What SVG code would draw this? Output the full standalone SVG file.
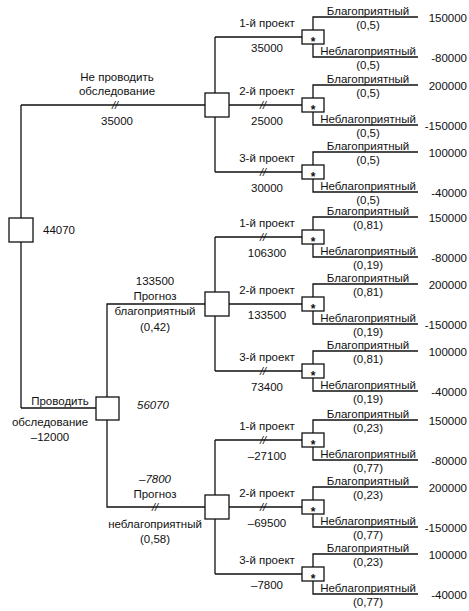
<svg xmlns="http://www.w3.org/2000/svg" width="469" height="611" viewBox="0 0 469 611">
<style>
text{font-family:"Liberation Sans",Arial,sans-serif;font-size:11.5px;fill:#111}
.m{text-anchor:middle}
.e{text-anchor:end}
.i{font-style:italic}
.st{text-anchor:middle;font-weight:bold;font-size:12px}
.sl{font-style:italic;font-size:11px;text-anchor:middle}
.ln{fill:none;stroke:#111;stroke-width:1.3}
.nd{fill:#fff;stroke:#111;stroke-width:1.3}
</style>
<rect width="469" height="611" fill="#fff"/>
<g id="connectors" class="ln">
<path d="M21,105 V408 M21,105 H205 M21,408 H96"/>
<path d="M107,397 V304 H205 M107,420 V507 H205"/>
<path d="M215,37 V172 M215,37 H302 M229,105 H302 M215,172 H302"/>
<path d="M215,237 V371 M215,237 H302 M229,304 H302 M215,371 H302"/>
<path d="M215,440 V574 M215,440 H302 M229,507 H302 M215,574 H302"/>
<path d="M313,30 V17 H418 M313,44 V57 H418"/>
<path d="M313,98 V85 H418 M313,112 V125 H418"/>
<path d="M313,165 V152 H418 M313,179 V192 H418"/>
<path d="M313,230 V217 H418 M313,244 V257 H418"/>
<path d="M313,297 V284 H418 M313,311 V324 H418"/>
<path d="M313,364 V351 H418 M313,378 V391 H418"/>
<path d="M313,433 V420 H418 M313,447 V460 H418"/>
<path d="M313,500 V487 H418 M313,514 V527 H418"/>
<path d="M313,567 V554 H418 M313,581 V594 H418"/>
</g>
<g id="edge-labels">
<text class="m" x="117" y="81">Не проводить</text>
<text class="m" x="117" y="95">обследование</text>
<text class="sl" x="115" y="109">//</text>
<text class="m" x="117" y="125">35000</text>
<text class="m" x="60" y="405">Проводить</text>
<text class="m" x="50" y="426">обследование</text>
<text class="m" x="50" y="441">–12000</text>
<text class="m" x="155" y="285">133500</text>
<text class="m" x="155" y="300">Прогноз</text>
<text class="m" x="155" y="315">благоприятный</text>
<text class="m" x="155" y="331">(0,42)</text>
<text class="m i" x="155" y="483">–7800</text>
<text class="m" x="155" y="498">Прогноз</text>
<text class="sl" x="155" y="511">//</text>
<text class="m" x="155" y="528">неблагоприятный</text>
<text class="m" x="155" y="543">(0,58)</text>
<text class="m" x="267" y="27">1-й проект</text>
<text class="m" x="267" y="52">35000</text>
<text class="m" x="267" y="95">2-й проект</text>
<text class="sl" x="263" y="109">//</text>
<text class="m" x="267" y="125">25000</text>
<text class="m" x="267" y="162">3-й проект</text>
<text class="sl" x="263" y="176">//</text>
<text class="m" x="267" y="192">30000</text>
<text class="m" x="267" y="227">1-й проект</text>
<text class="sl" x="263" y="241">//</text>
<text class="m" x="267" y="257">106300</text>
<text class="m" x="267" y="294">2-й проект</text>
<text class="m" x="267" y="319">133500</text>
<text class="m" x="267" y="361">3-й проект</text>
<text class="sl" x="263" y="375">//</text>
<text class="m" x="267" y="391">73400</text>
<text class="m" x="267" y="430">1-й проект</text>
<text class="sl" x="263" y="444">//</text>
<text class="m" x="267" y="460">–27100</text>
<text class="m" x="267" y="497">2-й проект</text>
<text class="sl" x="263" y="511">//</text>
<text class="m" x="267" y="527">–69500</text>
<text class="m" x="267" y="564">3-й проект</text>
<text class="m" x="267" y="589">–7800</text>
</g>
<g id="root"><rect class="nd" x="9" y="218" width="24" height="24"/><text x="43" y="234">44070</text></g>
<g id="node-no-survey"><rect class="nd" x="205" y="93" width="24" height="24"/></g>
<g id="node-survey"><rect class="nd" x="96" y="397" width="23" height="23"/><text class="i" x="137" y="409">56070</text></g>
<g id="node-fav"><rect class="nd" x="205" y="292" width="24" height="24"/></g>
<g id="node-unfav"><rect class="nd" x="205" y="495" width="24" height="24"/></g>
<g id="chance-1"><rect class="nd" x="302" y="30" width="22" height="14"/><text class="st" x="313" y="46">*</text>
<text class="m" x="368" y="15">Благоприятный</text><text class="m" x="368" y="29">(0,5)</text><text class="m" x="368" y="55">Неблагоприятный</text><text class="m" x="368" y="69">(0,5)</text><text class="e" x="467" y="22">150000</text><text class="e" x="467" y="62">-80000</text></g>
<g id="chance-2"><rect class="nd" x="302" y="98" width="22" height="14"/><text class="st" x="313" y="114">*</text>
<text class="m" x="368" y="83">Благоприятный</text><text class="m" x="368" y="97">(0,5)</text><text class="m" x="368" y="123">Неблагоприятный</text><text class="m" x="368" y="137">(0,5)</text><text class="e" x="467" y="90">200000</text><text class="e" x="467" y="130">-150000</text></g>
<g id="chance-3"><rect class="nd" x="302" y="165" width="22" height="14"/><text class="st" x="313" y="181">*</text>
<text class="m" x="368" y="150">Благоприятный</text><text class="m" x="368" y="164">(0,5)</text><text class="m" x="368" y="190">Неблагоприятный</text><text class="m" x="368" y="204">(0,5)</text><text class="e" x="467" y="157">100000</text><text class="e" x="467" y="197">-40000</text></g>
<g id="chance-4"><rect class="nd" x="302" y="230" width="22" height="14"/><text class="st" x="313" y="246">*</text>
<text class="m" x="368" y="215">Благоприятный</text><text class="m" x="368" y="229">(0,81)</text><text class="m" x="368" y="255">Неблагоприятный</text><text class="m" x="368" y="269">(0,19)</text><text class="e" x="467" y="222">150000</text><text class="e" x="467" y="262">-80000</text></g>
<g id="chance-5"><rect class="nd" x="302" y="297" width="22" height="14"/><text class="st" x="313" y="313">*</text>
<text class="m" x="368" y="282">Благоприятный</text><text class="m" x="368" y="296">(0,81)</text><text class="m" x="368" y="322">Неблагоприятный</text><text class="m" x="368" y="336">(0,19)</text><text class="e" x="467" y="289">200000</text><text class="e" x="467" y="329">-150000</text></g>
<g id="chance-6"><rect class="nd" x="302" y="364" width="22" height="14"/><text class="st" x="313" y="380">*</text>
<text class="m" x="368" y="349">Благоприятный</text><text class="m" x="368" y="363">(0,81)</text><text class="m" x="368" y="389">Неблагоприятный</text><text class="m" x="368" y="403">(0,19)</text><text class="e" x="467" y="356">100000</text><text class="e" x="467" y="396">-40000</text></g>
<g id="chance-7"><rect class="nd" x="302" y="433" width="22" height="14"/><text class="st" x="313" y="449">*</text>
<text class="m" x="368" y="418">Благоприятный</text><text class="m" x="368" y="432">(0,23)</text><text class="m" x="368" y="458">Неблагоприятный</text><text class="m" x="368" y="472">(0,77)</text><text class="e" x="467" y="425">150000</text><text class="e" x="467" y="465">-80000</text></g>
<g id="chance-8"><rect class="nd" x="302" y="500" width="22" height="14"/><text class="st" x="313" y="516">*</text>
<text class="m" x="368" y="485">Благоприятный</text><text class="m" x="368" y="499">(0,23)</text><text class="m" x="368" y="525">Неблагоприятный</text><text class="m" x="368" y="539">(0,77)</text><text class="e" x="467" y="492">200000</text><text class="e" x="467" y="532">-150000</text></g>
<g id="chance-9"><rect class="nd" x="302" y="567" width="22" height="14"/><text class="st" x="313" y="583">*</text>
<text class="m" x="368" y="552">Благоприятный</text><text class="m" x="368" y="566">(0,23)</text><text class="m" x="368" y="592">Неблагоприятный</text><text class="m" x="368" y="606">(0,77)</text><text class="e" x="467" y="559">100000</text><text class="e" x="467" y="599">-40000</text></g>
</svg>
